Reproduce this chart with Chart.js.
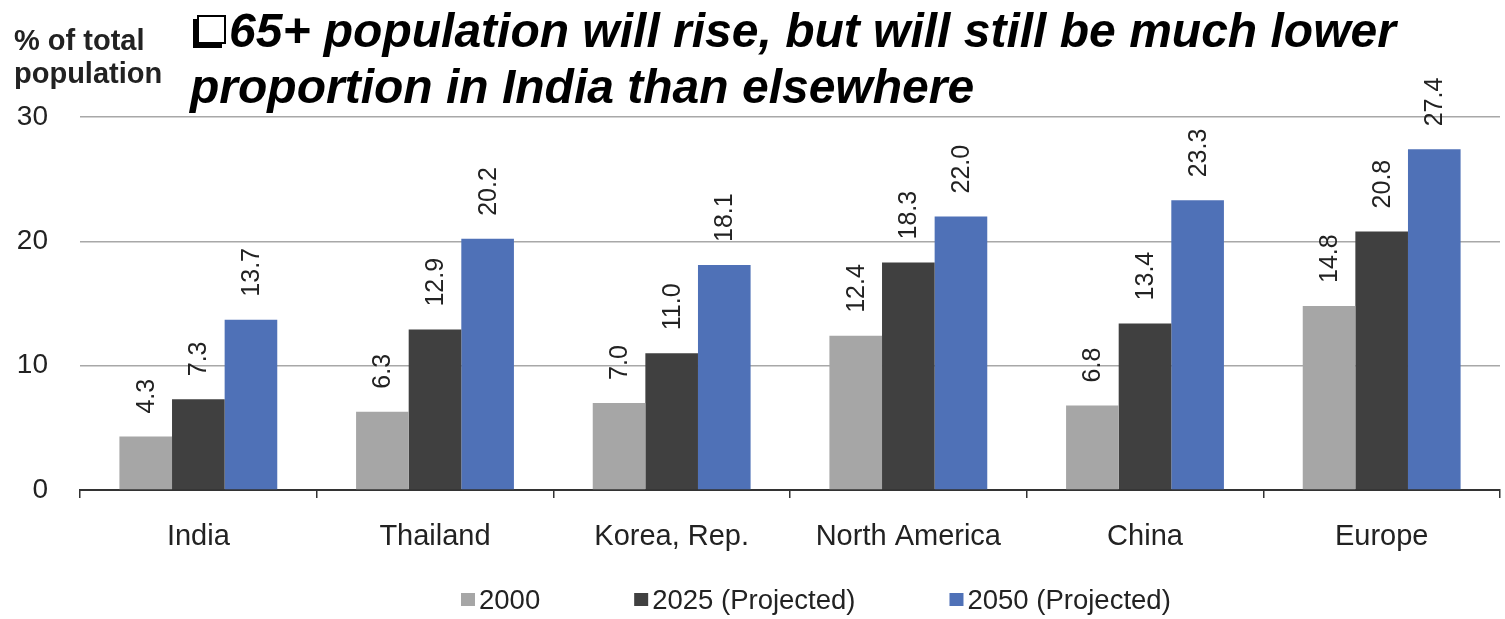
<!DOCTYPE html>
<html>
<head>
<meta charset="utf-8">
<script src="https://cdn.jsdelivr.net/npm/chart.js@4.4.0/dist/chart.umd.min.js"></script>
<style>
  html, body { margin: 0; padding: 0; background: #fff; }
  #contenedor { width: 1505px; height: 619px; }
</style>
</head>
<body>
<div id="contenedor"><canvas id="poblacion"></canvas></div>
<script>
//-----DATOS
const regiones = ['India', 'Thailand', 'Korea, Rep.', 'North America', 'China', 'Europe']
const valores2000 = [4.3, 6.3, 7.0, 12.4, 6.8, 14.8]
const valores2025 = [7.3, 12.9, 11.0, 18.3, 13.4, 20.8]
const valores2050 = [13.7, 20.2, 18.1, 22.0, 23.3, 27.4]
const nombresSeries = ['2000', '2025 (Projected)', '2050 (Projected)']
const ticksY = [0, 10, 20, 30]
const titulo = ['65+ population will rise, but will still be much lower', 'proportion in India than elsewhere']
const tituloEje = ['% of total', 'population']

const colores = ['#A6A6A6', '#404040', '#4F71B7']
const fuente = '"Liberation Sans", Arial, sans-serif'

//Etiquetas verticales encima de cada barra
const etiquetasBarras = {
    id: 'etiquetasBarras',
    afterDatasetsDraw(chart) {
        const ctx = chart.ctx
        ctx.save()
        ctx.font = '25px ' + fuente
        ctx.fillStyle = '#222'
        ctx.textAlign = 'left'
        ctx.textBaseline = 'middle'
        chart.data.datasets.forEach((ds, i) => {
            chart.getDatasetMeta(i).data.forEach((barra, j) => {
                ctx.save()
                ctx.translate(barra.x + 1, barra.y - 23)
                ctx.rotate(-Math.PI / 2)
                ctx.fillText(ds.data[j].toFixed(1), 0, 0)
                ctx.restore()
            })
        })
        ctx.restore()
    }
}

//Titulo, nombre del eje y leyenda
const textos = {
    id: 'textos',
    afterDraw(chart) {
        const ctx = chart.ctx
        ctx.save()

        // cuadro con sombra delante del titulo
        ctx.fillStyle = '#000'
        ctx.strokeStyle = '#000'
        ctx.lineWidth = 2
        ctx.strokeRect(198, 16, 27, 27)
        ctx.fillRect(193, 19, 5, 29)
        ctx.fillRect(193, 43, 29, 5)

        ctx.font = 'bold italic 48px ' + fuente
        ctx.textBaseline = 'alphabetic'
        ctx.textAlign = 'left'
        ctx.fillText(titulo[0], 229, 47)
        ctx.fillText(titulo[1], 190, 103)

        ctx.font = 'bold 29px ' + fuente
        ctx.fillStyle = '#222'
        ctx.fillText(tituloEje[0], 14, 50)
        ctx.fillText(tituloEje[1], 14, 83)

        // leyenda
        ctx.font = '27.5px ' + fuente
        ctx.textBaseline = 'middle'
        let x = 461
        nombresSeries.forEach((nombre, i) => {
            ctx.fillStyle = colores[i]
            ctx.fillRect(x, 593, 14, 13)
            ctx.fillStyle = '#222'
            ctx.fillText(nombre, x + 18, 601)
            x += 18 + ctx.measureText(nombre).width + 94
        })
        ctx.restore()
    }
}

const datos = {
    labels: regiones,
    datasets: [valores2000, valores2025, valores2050].map((serie, i) => ({
        label: nombresSeries[i],
        data: serie,
        backgroundColor: colores[i],
        borderWidth: 0,
        categoryPercentage: 0.667,
        barPercentage: 1.0
    }))
}

const config = {
    type: 'bar',
    data: datos,
    options: {
        responsive: true,
        maintainAspectRatio: false,
        animation: false,
        layout: {
            padding: { top: 117, right: 5, left: 0, bottom: 0 }
        },
        plugins: {
            legend: { display: false },
            tooltip: { enabled: false }
        },
        scales: {
            x: {
                afterFit(scale) { scale.height = 129 },
                grid: {
                    display: true,
                    drawOnChartArea: false,
                    drawTicks: true,
                    tickLength: 8,
                    color: '#333',
                    lineWidth: 1.5
                },
                border: { display: true, color: '#333', width: 2 },
                ticks: {
                    color: '#222',
                    padding: 22,
                    font: { family: fuente, size: 29 }
                }
            },
            y: {
                min: 0,
                max: 30,
                afterFit(scale) { scale.width = 80 },
                afterBuildTicks(scale) { scale.ticks = ticksY.map(v => ({ value: v })) },
                grid: {
                    color: '#A8A8A8',
                    lineWidth: 1.5,
                    drawTicks: false
                },
                border: { display: false },
                ticks: {
                    color: '#222',
                    padding: 32,
                    font: { family: fuente, size: 28 }
                }
            }
        }
    },
    plugins: [etiquetasBarras, textos]
}

const grafico = new Chart(document.getElementById('poblacion'), config)
</script>
</body>
</html>
